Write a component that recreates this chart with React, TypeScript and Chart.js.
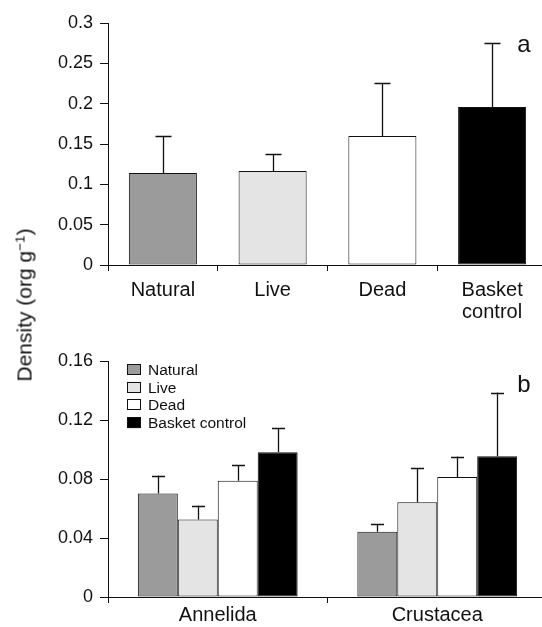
import React, { useEffect, useRef } from "react";
import { Chart, registerables } from "chart.js";

Chart.register(...registerables);

// ---------- data ----------
const topCategories: (string | string[])[] = ["Natural", "Live", "Dead", ["Basket", "control"]];
const topMeans = [0.114, 0.1165, 0.16, 0.196];
const topErrHigh = [0.16, 0.137, 0.226, 0.275];
const topColors = ["#9b9b9b", "#e4e4e4", "#ffffff", "#000000"];
const topYTicks = [0, 0.05, 0.1, 0.15, 0.2, 0.25, 0.3];
const topYTickLabels = ["0", "0.05", "0.1", "0.15", "0.2", "0.25", "0.3"];

const bottomCategories = ["Annelida", "Crustacea"];
const seriesNames = ["Natural", "Live", "Dead", "Basket control"];
const naturalMeans = [0.0701, 0.0442];
const naturalErrHigh = [0.0823, 0.0492];
const liveMeans = [0.0525, 0.0643];
const liveErrHigh = [0.062, 0.0873];
const deadMeans = [0.0788, 0.0813];
const deadErrHigh = [0.0894, 0.0952];
const basketMeans = [0.0982, 0.0955];
const basketErrHigh = [0.1144, 0.1386];
const bottomYTicks = [0, 0.04, 0.08, 0.12, 0.16];
const bottomYTickLabels = ["0", "0.04", "0.08", "0.12", "0.16"];

const FONT = "'Liberation Sans', Arial, Helvetica, sans-serif";
const INK = "#111111";

const errorBarPlugin = (capWidth: number) => ({
  id: "errorBars",
  afterDatasetsDraw(chart: any) {
    const ctx = chart.ctx;
    const yScale = chart.scales.y;
    ctx.save();
    ctx.strokeStyle = INK;
    ctx.lineWidth = 1.3;
    chart.data.datasets.forEach((ds: any, di: number) => {
      const meta = chart.getDatasetMeta(di);
      meta.data.forEach((el: any, i: number) => {
        const hi = ds.errHigh[i];
        const yTop = yScale.getPixelForValue(hi);
        const x = Math.round(el.x) + 0.5;
        ctx.beginPath();
        ctx.moveTo(x, el.y);
        ctx.lineTo(x, yTop);
        ctx.moveTo(x - capWidth / 2, Math.round(yTop) + 0.5);
        ctx.lineTo(x + capWidth / 2, Math.round(yTop) + 0.5);
        ctx.stroke();
      });
    });
    ctx.restore();
  },
});

const panelLetterPlugin = (letter: string, dy: number) => ({
  id: "panelLetter",
  afterDraw(chart: any) {
    const ctx = chart.ctx;
    const area = chart.chartArea;
    ctx.save();
    ctx.fillStyle = INK;
    ctx.font = `24px ${FONT}`;
    ctx.textAlign = "center";
    ctx.textBaseline = "alphabetic";
    ctx.fillText(letter, area.right - 23, area.top + dy);
    ctx.restore();
  },
});

const legendPlugin = {
  id: "boxLegend",
  afterDraw(chart: any) {
    const ctx = chart.ctx;
    const area = chart.chartArea;
    ctx.save();
    ctx.font = `15.5px ${FONT}`;
    ctx.textBaseline = "alphabetic";
    ctx.textAlign = "left";
    chart.data.datasets.forEach((ds: any, i: number) => {
      const base = area.top + 14 + i * 17.7;
      const bx = area.left + 19;
      ctx.fillStyle = ds.backgroundColor;
      ctx.fillRect(bx, base - 11, 13, 11);
      ctx.strokeStyle = INK;
      ctx.lineWidth = 1;
      ctx.strokeRect(bx + 0.5, Math.round(base - 11) + 0.5, 13, 10);
      ctx.fillStyle = INK;
      ctx.fillText(ds.label, bx + 21, base);
    });
    ctx.restore();
  },
};

function yAxis(ticks: number[], labels: string[], max: number) {
  return {
    min: 0,
    max,
    afterBuildTicks: (scale: any) => {
      scale.ticks = ticks.map((v) => ({ value: v }));
    },
    afterFit: (scale: any) => {
      scale.width = 108;
    },
    grid: { drawOnChartArea: false, drawTicks: true, tickLength: 8, color: INK, lineWidth: 1 },
    border: { display: true, color: INK, width: 1 },
    ticks: {
      padding: 7,
      color: INK,
      font: { family: FONT, size: 18 },
      callback: (_v: any, i: number) => labels[i],
    },
  };
}

function xAxis(height: number, padding: number) {
  return {
    afterFit: (scale: any) => {
      scale.height = height;
    },
    grid: { offset: true, drawOnChartArea: false, drawTicks: true, tickLength: 6, color: INK, lineWidth: 1 },
    border: { display: true, color: INK, width: 1 },
    ticks: {
      padding,
      color: INK,
      maxRotation: 0,
      autoSkip: false,
      font: { family: FONT, size: 20, lineHeight: 1.1 },
    },
  };
}

export default function App() {
  const topRef = useRef<HTMLCanvasElement>(null);
  const botRef = useRef<HTMLCanvasElement>(null);

  useEffect(() => {
    const c1 = new Chart(topRef.current as HTMLCanvasElement, {
      type: "bar",
      data: {
        labels: topCategories as any,
        datasets: [
          {
            label: "Density",
            data: topMeans,
            errHigh: topErrHigh,
            backgroundColor: topColors,
            borderColor: INK,
            borderWidth: 1,
            borderSkipped: false,
            categoryPercentage: 1,
            barPercentage: 0.62,
          } as any,
        ],
      },
      options: {
        animation: false,
        responsive: false,
        devicePixelRatio: 1,
        layout: { padding: { top: 23, left: 0, right: 0, bottom: 0 } },
        plugins: { legend: { display: false }, tooltip: { enabled: false } },
        scales: {
          x: xAxis(65, 8) as any,
          y: yAxis(topYTicks, topYTickLabels, 0.3) as any,
        },
      },
      plugins: [errorBarPlugin(16), panelLetterPlugin("a", 29)],
    });

    const means = [naturalMeans, liveMeans, deadMeans, basketMeans];
    const highs = [naturalErrHigh, liveErrHigh, deadErrHigh, basketErrHigh];
    const c2 = new Chart(botRef.current as HTMLCanvasElement, {
      type: "bar",
      data: {
        labels: bottomCategories,
        datasets: seriesNames.map((name, i) => ({
          label: name,
          data: means[i],
          errHigh: highs[i],
          backgroundColor: topColors[i],
          borderColor: INK,
          borderWidth: 1,
          borderSkipped: false,
          categoryPercentage: 0.728,
          barPercentage: 1,
        })) as any,
      },
      options: {
        animation: false,
        responsive: false,
        devicePixelRatio: 1,
        layout: { padding: { top: 31, left: 0, right: 0, bottom: 0 } },
        plugins: { legend: { display: false }, tooltip: { enabled: false } },
        scales: {
          x: xAxis(30, 1) as any,
          y: yAxis(bottomYTicks, bottomYTickLabels, 0.16) as any,
        },
      },
      plugins: [errorBarPlugin(13), panelLetterPlugin("b", 31), legendPlugin],
    });

    return () => {
      c1.destroy();
      c2.destroy();
    };
  }, []);

  return (
    <div
      style={{
        position: "fixed",
        left: 0,
        top: 0,
        width: 542,
        height: 627,
        overflow: "hidden",
        background: "#ffffff",
      }}
    >
      <canvas
        ref={topRef}
        width={547}
        height={330}
        style={{ position: "absolute", left: 0, top: 0, width: 547, height: 330 }}
      />
      <canvas
        ref={botRef}
        width={547}
        height={297}
        style={{ position: "absolute", left: 0, top: 330, width: 547, height: 297 }}
      />
      <div
        style={{
          position: "absolute",
          left: 24,
          top: 305,
          transform: "translate(-50%, -50%) rotate(-90deg)",
          fontFamily: FONT,
          fontSize: 21,
          color: INK,
          whiteSpace: "nowrap",
          lineHeight: 1,
        }}
      >
        Density (org g<sup style={{ fontSize: 13.5, verticalAlign: "0.55em", lineHeight: 0 }}>−1</sup>)
      </div>
    </div>
  );
}
